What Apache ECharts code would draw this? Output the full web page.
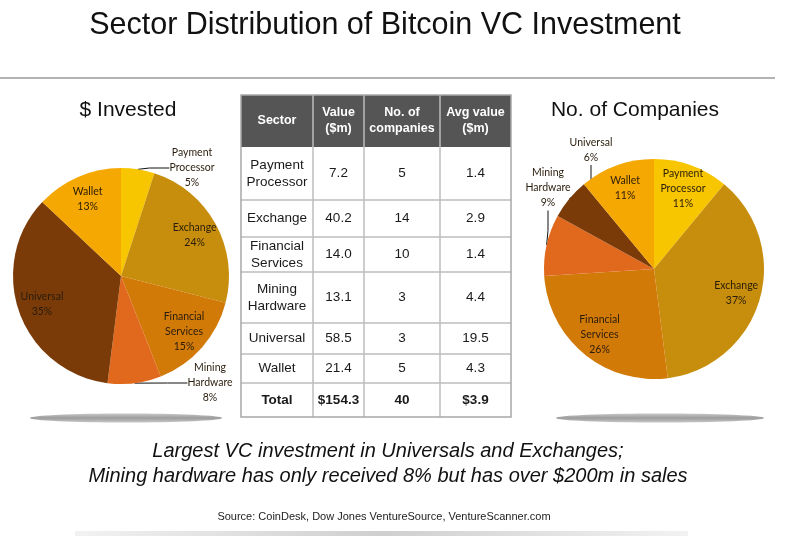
<!DOCTYPE html>
<html>
<head>
<meta charset="utf-8">
<script src="https://cdn.jsdelivr.net/npm/echarts@6/dist/echarts.min.js"></script>
<style>
  html, body { margin: 0; padding: 0; background: #fff; }
  #chart { width: 788px; height: 536px; }
</style>
</head>
<body>
<div id="chart"></div>
<script>
// sectors in the order they run round both pies (clockwise from 12 o'clock)
var sectors = ['Payment Processor', 'Exchange', 'Financial Services', 'Mining Hardware', 'Universal', 'Wallet'];
var valueSm = [7.2, 40.2, 14.0, 13.1, 58.5, 21.4];
var companies = [5, 14, 10, 3, 3, 5];
var avgValue = [1.4, 2.9, 1.4, 4.4, 19.5, 4.3];
var totalRow = ['Total', '$154.3', '40', '$3.9'];
var headers = ['Sector', 'Value\n($m)', 'No. of\ncompanies', 'Avg value\n($m)'];

// percentages as printed on the two pies
var investedPct = [5, 24, 15, 8, 35, 13];
var companiesPct = [11, 37, 26, 9, 6, 11];

var colors = ['#F7C600', '#C68E0C', '#D27A08', '#E0691E', '#7A3B08', '#F5A702'];

// which slices carry their label outside with a leader line
var investedOutside = [0, 3];
var companiesOutside = [3, 4];

var FONT = 'Liberation Sans, Arial, sans-serif';
var LABEL_FONT = 'Lato, Open Sans, sans-serif';

function multiline(s) { return s.replace(/ /g, '\n'); }

function pieData(pcts, outside, isOverlay) {
    return sectors.map(function (s, i) {
        var out = outside.indexOf(i) >= 0;
        var show = isOverlay ? !out : out;
        return {
            name: s,
            value: pcts[i],
            itemStyle: { color: isOverlay ? 'rgba(0,0,0,0)' : colors[i] },
            label: { show: show },
            labelLine: { show: show && !isOverlay }
        };
    });
}

var labelStyle = {
    formatter: function (p) { return multiline(p.name) + '\n' + p.value + '%'; },
    fontFamily: LABEL_FONT,
    fontSize: 10.5,
    lineHeight: 15,
    color: '#2a1c0c'
};

// where the outside labels sit (label placement, not data)
var outsideLabelPos = {
    0: { 0: { x: 192, y: 168 }, 3: { x: 210, y: 383 } },
    2: { 4: { x: 591, y: 150 }, 3: { x: 548, y: 188 } }
};

function labelLayout(p) {
    var m = outsideLabelPos[p.seriesIndex];
    if (m && m[p.dataIndex]) {
        return { x: m[p.dataIndex].x, y: m[p.dataIndex].y, align: 'center', verticalAlign: 'middle' };
    }
    return {};
}

function pieSeries(center, r, pcts, outside) {
    return [{
        type: 'pie',
        center: center,
        radius: [0, r],
        startAngle: 90,
        clockwise: true,
        animation: false,
        silent: true,
        label: Object.assign({ position: 'outside', align: 'center' }, labelStyle),
        labelLine: { length: 6, length2: 20, lineStyle: { color: '#111', width: 1 } },
        labelLayout: labelLayout,
        data: pieData(pcts, outside, false)
    }, {
        type: 'pie',
        center: center,
        radius: [r * 0.5, r],
        startAngle: 90,
        clockwise: true,
        animation: false,
        silent: true,
        label: Object.assign({ position: 'inside' }, labelStyle),
        data: pieData(pcts, outside, true)
    }];
}

// table layout
var colEdges = [241, 313, 364, 440, 511];
var rowEdges = [95, 147, 200, 237, 272, 323, 354, 383, 417];

function buildTable() {
    var els = [];
    var rows = [headers];
    sectors.forEach(function (s, i) {
        rows.push([multiline(s), valueSm[i].toFixed(1), String(companies[i]), avgValue[i].toFixed(1)]);
    });
    rows.push(totalRow);
    var x0 = colEdges[0], x1 = colEdges[colEdges.length - 1];
    var y0 = rowEdges[0], y1 = rowEdges[rowEdges.length - 1];
    els.push({ type: 'rect', shape: { x: x0, y: y0, width: x1 - x0, height: rowEdges[1] - y0 },
        style: { fill: '#555555' } });
    for (var r = 2; r < rowEdges.length - 1; r++) {
        els.push({ type: 'line', shape: { x1: x0, y1: rowEdges[r], x2: x1, y2: rowEdges[r] },
            style: { stroke: '#bdbdbd', lineWidth: 1.5 } });
    }
    for (var c = 1; c < colEdges.length - 1; c++) {
        els.push({ type: 'line', shape: { x1: colEdges[c], y1: y0, x2: colEdges[c], y2: y1 },
            style: { stroke: '#bdbdbd', lineWidth: 1.5 } });
    }
    els.push({ type: 'rect', shape: { x: x0, y: y0, width: x1 - x0, height: y1 - y0 },
        style: { fill: 'none', stroke: '#a8a8a8', lineWidth: 1.5 } });
    rows.forEach(function (row, ri) {
        var cy = (rowEdges[ri] + rowEdges[ri + 1]) / 2;
        var head = ri === 0, bold = head || ri === rows.length - 1;
        row.forEach(function (txt, ci) {
            els.push({
                type: 'text',
                x: (colEdges[ci] + colEdges[ci + 1]) / 2,
                y: cy,
                style: {
                    text: txt,
                    align: 'center',
                    verticalAlign: 'middle',
                    fontFamily: FONT,
                    fontSize: head ? 12.5 : 13.5,
                    lineHeight: head ? 16 : 17,
                    fontWeight: bold ? 'bold' : 'normal',
                    fill: head ? '#ffffff' : '#1a1a1a'
                }
            });
        });
    });
    return els;
}

function shadow(cx, cy, rx) {
    return {
        type: 'ellipse',
        shape: { cx: cx, cy: cy, rx: rx, ry: 4.5 },
        style: {
            fill: new echarts.graphic.LinearGradient(0, 0, 0, 1, [
                { offset: 0, color: '#c8c8c8' },
                { offset: 0.5, color: '#9c9c9c' },
                { offset: 1, color: '#c8c8c8' }
            ])
        }
    };
}

var texts = [
    { type: 'text', x: 385, y: 26, style: { text: 'Sector Distribution of Bitcoin VC Investment', align: 'center', verticalAlign: 'middle', fontFamily: FONT, fontSize: 30.5, fill: '#111' } },
    { type: 'line', shape: { x1: 0, y1: 78, x2: 775, y2: 78 }, style: { stroke: '#9a9a9a', lineWidth: 1.5 } },
    { type: 'text', x: 128, y: 110, style: { text: '$ Invested', align: 'center', verticalAlign: 'middle', fontFamily: FONT, fontSize: 21, fill: '#111' } },
    { type: 'text', x: 635, y: 110, style: { text: 'No. of Companies', align: 'center', verticalAlign: 'middle', fontFamily: FONT, fontSize: 21, fill: '#111' } },
    { type: 'text', x: 388, y: 451, style: { text: 'Largest VC investment in Universals and Exchanges;', align: 'center', verticalAlign: 'middle', fontFamily: FONT, fontSize: 20, fontStyle: 'italic', fill: '#111' } },
    { type: 'text', x: 388, y: 476, style: { text: 'Mining hardware has only received 8% but has over $200m in sales', align: 'center', verticalAlign: 'middle', fontFamily: FONT, fontSize: 20, fontStyle: 'italic', fill: '#111' } },
    { type: 'text', x: 384, y: 517, style: { text: 'Source: CoinDesk, Dow Jones VentureSource, VentureScanner.com', align: 'center', verticalAlign: 'middle', fontFamily: FONT, fontSize: 11, fill: '#222' } },
    shadow(126, 418, 96),
    shadow(660, 418, 104),
    { type: 'rect', shape: { x: 75, y: 531, width: 613, height: 5 },
        style: { fill: new echarts.graphic.LinearGradient(0, 0, 1, 0, [
            { offset: 0, color: '#f2f2f2' },
            { offset: 0.5, color: '#cfcfcf' },
            { offset: 1, color: '#f2f2f2' }
        ]) } }
];

var chart = echarts.init(document.getElementById('chart'), null, { renderer: 'canvas' });
chart.setOption({
    backgroundColor: '#ffffff',
    animation: false,
    graphic: texts.concat(buildTable()),
    series: pieSeries([121, 276], 108, investedPct, investedOutside)
        .concat(pieSeries([654, 269], 110, companiesPct, companiesOutside))
});
</script>
</body>
</html>
